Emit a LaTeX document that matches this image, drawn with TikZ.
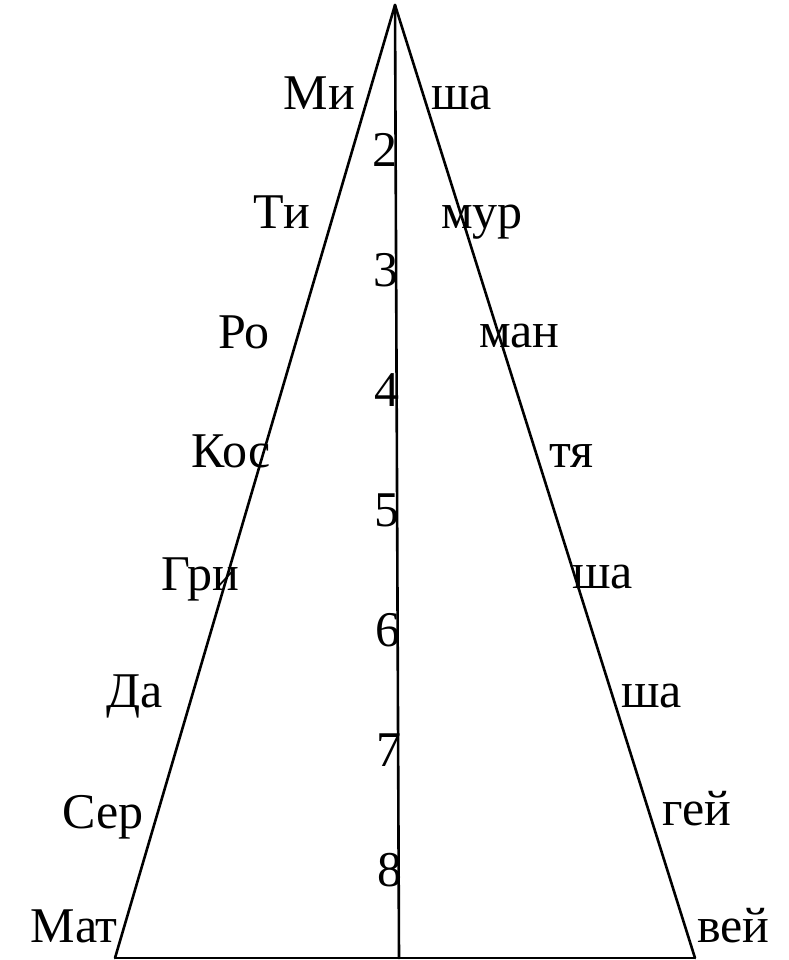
\documentclass[tikz,border=0pt]{standalone}
\usepackage{fontspec}
\setmainfont{Liberation Serif}
\begin{document}
\begin{tikzpicture}[x=1pt,y=-1pt,
  side/.style={line width=2.6pt, line cap=round, line join=round},
  basel/.style={line width=2pt},
  lab/.style={inner sep=0pt, font=\fontsize{50}{60}\selectfont},
  lft/.style={lab, anchor=base east},
  rgt/.style={lab, anchor=base west},
  dig/.style={lab, anchor=base east}]
\useasboundingbox (0,0) rectangle (788,960);
\coordinate (apex) at (395,5);
\coordinate (bl) at (115,958);
\coordinate (br) at (695,958);
\coordinate (bm) at (399,958);
\draw[side] (bl) -- (apex) -- (br);
\draw[basel] (bl) -- (br);
\draw[side] (apex) -- (bm);
% left syllables
\node[lft] (l1) at (355,110) {Ми};
\node[lft] (l2) at (310,228) {Ти};
\node[lft] (l3) at (270,348) {Ро};
\node[lft] (l4) at (271,467) {Кос};
\node[lft] (l5) at (239,590) {Гри};
\node[lft] (l6) at (163,707) {Да};
\node[lft] (l7) at (144,828) {Сер};
\node[lft] (l8) at (118,942) {Мат};
% right syllables
\node[rgt] (r1) at (431,110) {ша};
\node[rgt] (r2) at (441,228) {мур};
\node[rgt] (r3) at (479,347) {ман};
\node[rgt] (r4) at (549,467) {тя};
\node[rgt] (r5) at (572,588) {ша};
\node[rgt] (r6) at (621,707) {ша};
\node[rgt] (r7) at (662,825) {гей};
\node[rgt] (r8) at (697,942) {вей};
% numbers
\node[dig] (n2) at (398,167) {2};
\node[dig] (n3) at (399,286) {3};
\node[dig] (n4) at (400,406) {4};
\node[dig] (n5) at (400,526) {5};
\node[dig] (n6) at (401,646) {6};
\node[dig] (n7) at (402,766) {7};
\node[dig] (n8) at (403,886) {8};
\end{tikzpicture}
\end{document}
